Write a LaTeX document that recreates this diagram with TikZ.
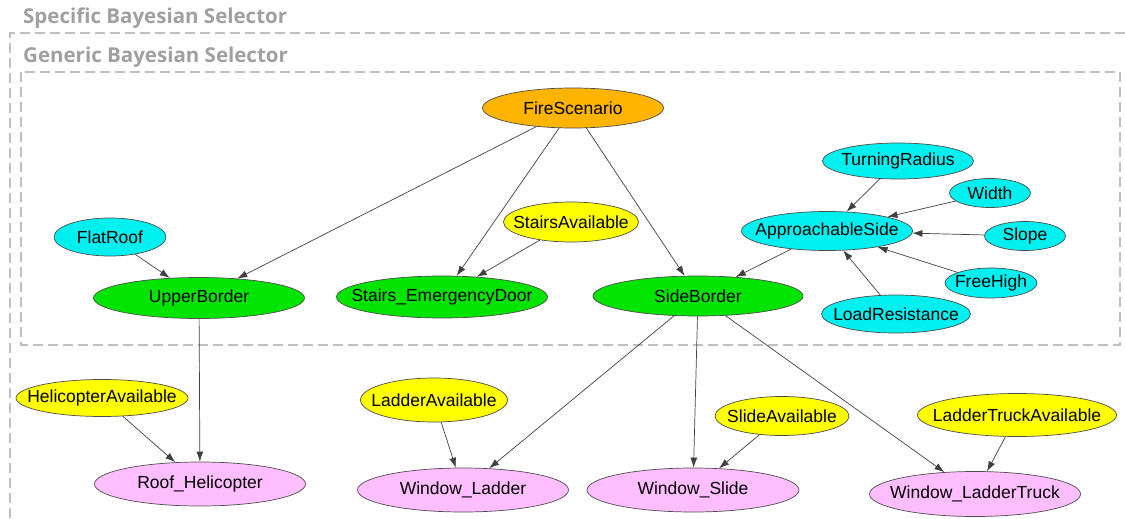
\documentclass[tikz,border=0pt]{standalone}
\usepackage{fontspec}
\setmainfont{Liberation Sans}
\newfontfamily\selfont{Open Sans}
\usepackage{xcolor}
\usetikzlibrary{shapes.geometric,arrows.meta}

\definecolor{boxgray}{RGB}{192,192,192}
\definecolor{titlegray}{RGB}{160,160,160}
\definecolor{fireorange}{RGB}{255,180,0}
\definecolor{sidecyan}{RGB}{0,240,240}
\definecolor{bordergreen}{RGB}{0,228,0}
\definecolor{availyellow}{RGB}{255,255,0}
\definecolor{exitpink}{RGB}{255,190,255}

% label of a node without width, so that the ellipse keeps its given size
\newcommand{\bnlabel}[1]{\makebox[0pt]{#1}}

\begin{document}
\begin{tikzpicture}[x=1pt,y=-1pt,
                    bn/.style={shape=ellipse,draw=black!70,line width=0.7pt,inner sep=0pt,
                               font=\fontsize{17.5}{20}\selectfont},
                    dep/.style={draw=black!75,line width=0.7pt,-{Latex[length=10pt,width=7pt]}},
                    selbox/.style={draw=boxgray,line width=2.6pt,dash pattern=on 10pt off 5pt},
                    seltitle/.style={anchor=base west,inner sep=0pt,text=titlegray,
                                     font=\selfont\bfseries\fontsize{20.5}{22}\selectfont}]
                    \useasboundingbox (0,0) rectangle (1125,519);

                    % selector frames
                    \node[seltitle] (spec) at (23,24) {Specific Bayesian Selector};
                    \node[seltitle] (gen) at (23,63) {Generic Bayesian Selector};
                    \draw[selbox] (1140,33) -- (10,33) -- (10,540);
                    \draw[selbox] (21,72) rectangle (1120,345);

                    \node[bn,fill=fireorange,minimum width=181,minimum height=40] (F) at (573,108) {\bnlabel{FireScenario}};

                    \node[bn,fill=sidecyan,minimum width=151,minimum height=36] (TR) at (898,161) {\bnlabel{TurningRadius}};
                    \node[bn,fill=sidecyan,minimum width=81,minimum height=29] (W) at (990,193) {\bnlabel{Width}};
                    \node[bn,fill=sidecyan,minimum width=171,minimum height=39] (AS) at (827,231) {\bnlabel{ApproachableSide}};
                    \node[bn,fill=sidecyan,minimum width=81,minimum height=29] (SL) at (1025,236) {\bnlabel{Slope}};
                    \node[bn,fill=sidecyan,minimum width=92,minimum height=30] (FH) at (991,283) {\bnlabel{FreeHigh}};
                    \node[bn,fill=sidecyan,minimum width=149,minimum height=38] (LR) at (896,314) {\bnlabel{LoadResistance}};
                    \node[bn,fill=sidecyan,minimum width=112,minimum height=38] (FR) at (110,237) {\bnlabel{FlatRoof}};

                    \node[bn,fill=availyellow,minimum width=135,minimum height=40] (SA) at (571,222) {\bnlabel{StairsAvailable}};

                    \node[bn,fill=bordergreen,minimum width=211,minimum height=41] (UB) at (199,298) {\bnlabel{UpperBorder}};
                    \node[bn,fill=bordergreen,minimum width=211,minimum height=42] (SE) at (442,297) {\bnlabel{Stairs\_EmergencyDoor}};
                    \node[bn,fill=bordergreen,minimum width=210,minimum height=40] (SB) at (698,296) {\bnlabel{SideBorder}};

                    \node[bn,fill=availyellow,minimum width=172,minimum height=37] (HA) at (102,398) {\bnlabel{HelicopterAvailable}};
                    \node[bn,fill=availyellow,minimum width=147,minimum height=44] (LA) at (434,400) {\bnlabel{LadderAvailable}};
                    \node[bn,fill=availyellow,minimum width=134,minimum height=39] (SLA) at (782,416) {\bnlabel{SlideAvailable}};
                    \node[bn,fill=availyellow,minimum width=199,minimum height=43] (LTA) at (1017,415) {\bnlabel{LadderTruckAvailable}};

                    \node[bn,fill=exitpink,minimum width=211,minimum height=44] (RH) at (200,484) {\bnlabel{Roof\_Helicopter}};
                    \node[bn,fill=exitpink,minimum width=211,minimum height=44] (WL) at (463,490) {\bnlabel{Window\_Ladder}};
                    \node[bn,fill=exitpink,minimum width=212,minimum height=44] (WS) at (693,490) {\bnlabel{Window\_Slide}};
                    \node[bn,fill=exitpink,minimum width=211,minimum height=45] (WLT) at (975,494) {\bnlabel{Window\_LadderTruck}};

                    \draw[dep] (F) -- (UB);
                    \draw[dep] (F) -- (SE);
                    \draw[dep] (F) -- (SB);
                    \draw[dep] (SA) -- (SE);
                    \draw[dep] (FR) -- (UB);
                    \draw[dep] (TR) -- (AS);
                    \draw[dep] (W) -- (AS);
                    \draw[dep] (SL) -- (AS);
                    \draw[dep] (FH) -- (AS);
                    \draw[dep] (LR) -- (AS);
                    \draw[dep] (AS) -- (SB);
                    \draw[dep] (UB) -- (RH);
                    \draw[dep] (HA) -- (RH);
                    \draw[dep] (SB) -- (WL);
                    \draw[dep] (SB) -- (WS);
                    \draw[dep] (SB) -- (WLT);
                    \draw[dep] (LA) -- (WL);
                    \draw[dep] (SLA) -- (WS);
                    \draw[dep] (LTA) -- (WLT);
                \end{tikzpicture}
\end{document}
